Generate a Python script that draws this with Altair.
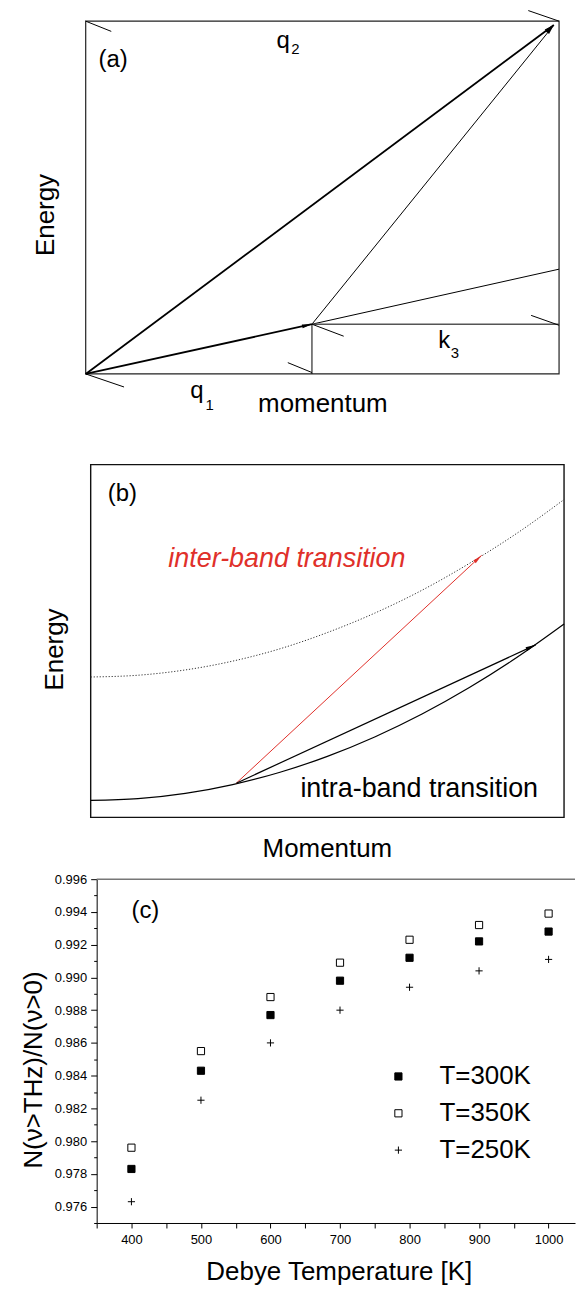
import math
import altair as alt
import pandas as pd

FONT = "Liberation Sans"
RED = "#e0302a"
ARROW = "M0,-1L0.38,1L-0.38,1Z"
PLUS = "M-1,0L1,0M0,-1L0,1"

# ---------------- Panel (a): schematic (box units 0..1) ----------------
a_main_x1 = [0.0, 0.0]
a_main_y1 = [0.0, 0.0]
a_main_x2 = [0.989, 0.478]
a_main_y2 = [0.989, 0.141]

a_thin_x1 = [0.478, 0.478, 0.478]
a_thin_y1 = [0.141, 0.141, 0.141]
a_thin_x2 = [0.989, 1.0, 0.478]
a_thin_y2 = [0.989, 0.297, 0.0]

a_k3_x1 = [0.478]
a_k3_y1 = [0.141]
a_k3_x2 = [1.0]
a_k3_y2 = [0.141]

a_stub_x1 = [0.0, 0.0, 0.935, 0.478, 0.427, 0.941]
a_stub_y1 = [1.0, 0.0, 1.030, 0.141, 0.032, 0.166]
a_stub_x2 = [0.054, 0.081, 1.0, 0.545, 0.478, 1.0]
a_stub_y2 = [0.971, -0.037, 1.0, 0.107, 0.004, 0.138]

a_head_x1 = [0.0, 0.478, 0.0]
a_head_y1 = [0.0, 0.141, 0.0]
a_head_x2 = [0.989, 0.989, 0.478]
a_head_y2 = [0.989, 0.989, 0.141]

a_big_text = ["(a)", "q", "q", "k"]
a_big_x = [0.027, 0.403, 0.221, 0.745]
a_big_y = [0.870, 0.924, -0.068, 0.073]
a_sub_text = ["2", "1", "3"]
a_sub_x = [0.434, 0.253, 0.771]
a_sub_y = [0.908, -0.102, 0.045]

# ---------------- Panel (b): bands (box units 0..1) ----------------
b_curve_x = [0.0, 0.1, 0.2, 0.3, 0.4, 0.5, 0.6, 0.7, 0.8, 0.9, 1.0]
b_lower_y = [0.048, 0.053, 0.068, 0.093, 0.128, 0.173, 0.228, 0.293, 0.368, 0.453, 0.548]
b_upper_y = [0.398, 0.403, 0.418, 0.443, 0.478, 0.524, 0.579, 0.644, 0.720, 0.805, 0.901]

b_red_x1 = [0.3076]
b_red_y1 = [0.097]
b_red_x2 = [0.826]
b_red_y2 = [0.743]
b_blk_x1 = [0.3076]
b_blk_y1 = [0.097]
b_blk_x2 = [0.940]
b_blk_y2 = [0.489]

b_text_black = ["(b)"]
b_text_black_x = [0.036]
b_text_black_y = [0.898]
b_intra_text = ["intra-band transition"]
b_intra_x = [0.443]
b_intra_y = [0.0565]
b_inter_text = ["inter-band transition"]
b_inter_x = [0.164]
b_inter_y = [0.709]

# ---------------- Panel (c): data ----------------
debye = [400, 500, 600, 700, 800, 900, 1000]
r300 = [0.9783, 0.9843, 0.9877, 0.9898, 0.9912, 0.9922, 0.9928]
r350 = [0.9796, 0.9855, 0.9888, 0.9909, 0.9923, 0.9932, 0.9939]
r250 = [0.9763, 0.9825, 0.9860, 0.9880, 0.9894, 0.9904, 0.9911]
series_names = ["T=300K", "T=350K", "T=250K"]
x_ticks = [350, 400, 450, 500, 550, 600, 650, 700, 750, 800, 850, 900, 950, 1000]
y_ticks = [round(0.975 + 0.001 * i, 3) for i in range(22)]
c_label = ["(c)"]
c_label_x = [400]
c_label_y = [0.9936]
legend_sym_x = [784, 784, 784]
legend_txt_x = [843, 843, 843]
legend_y = [0.98395, 0.98170, 0.97945]


def seg_df(x1, y1, x2, y2):
    return pd.DataFrame({"x": x1, "y": y1, "x2": x2, "y2": y2})


def head_df(x1, y1, x2, y2, W, H, L=5.0):
    rows = []
    for a, b, c, d in zip(x1, y1, x2, y2):
        dx = (c - a) * W
        dy = (d - b) * H
        n = math.hypot(dx, dy)
        rows.append({"x": c - dx / n * L / W, "y": d - dy / n * L / H,
                     "angle": math.degrees(math.atan2(dx, dy)) % 360})
    return pd.DataFrame(rows)


def txt_df(t, x, y):
    return pd.DataFrame({"t": t, "x": x, "y": y})


# ================= Panel (a) =================
AW, AH = 475, 354
xa = alt.Scale(domain=[0, 1], nice=False, zero=False)
ya = alt.Scale(domain=[0, 1], nice=False, zero=False)
axa_x = alt.Axis(title="momentum", labels=False, ticks=False, domain=False, grid=False,
                 titleFontSize=26, titleFontWeight="normal", titlePadding=17, titleColor="black")
axa_y = alt.Axis(title="Energy", labels=False, ticks=False, domain=False, grid=False,
                 titleFontSize=26, titleFontWeight="normal", titlePadding=27, titleY=194,
                 titleColor="black")


def XA():
    return alt.X("x:Q", scale=xa, axis=axa_x)


def YA():
    return alt.Y("y:Q", scale=ya, axis=axa_y)


frame_a = alt.Chart(seg_df([0.0], [0.0], [1.0], [1.0])).mark_rect(
    filled=False, stroke="#222", strokeWidth=1.2).encode(x=XA(), x2="x2:Q", y=YA(), y2="y2:Q")
main_a = alt.Chart(seg_df(a_main_x1, a_main_y1, a_main_x2, a_main_y2)).mark_rule(
    color="black", strokeWidth=1.8).encode(x=XA(), x2="x2:Q", y=YA(), y2="y2:Q")
thin_a = alt.Chart(seg_df(a_thin_x1, a_thin_y1, a_thin_x2, a_thin_y2)).mark_rule(
    color="black", strokeWidth=1.0).encode(x=XA(), x2="x2:Q", y=YA(), y2="y2:Q")
k3_a = alt.Chart(seg_df(a_k3_x1, a_k3_y1, a_k3_x2, a_k3_y2)).mark_rule(
    color="#555", strokeWidth=1.6).encode(x=XA(), x2="x2:Q", y=YA(), y2="y2:Q")
stub_a = alt.Chart(seg_df(a_stub_x1, a_stub_y1, a_stub_x2, a_stub_y2)).mark_rule(
    color="black", strokeWidth=1.0).encode(x=XA(), x2="x2:Q", y=YA(), y2="y2:Q")
heads_a = alt.Chart(head_df(a_head_x1, a_head_y1, a_head_x2, a_head_y2, AW, AH)).mark_point(
    shape=ARROW, size=100, filled=True, color="black", opacity=1).encode(
    x=XA(), y=YA(), angle=alt.Angle("angle:Q", scale=None))
big_a = alt.Chart(txt_df(a_big_text, a_big_x, a_big_y)).mark_text(
    fontSize=24, align="left", baseline="alphabetic", color="black").encode(x=XA(), y=YA(), text="t:N")
sub_a = alt.Chart(txt_df(a_sub_text, a_sub_x, a_sub_y)).mark_text(
    fontSize=15, align="left", baseline="alphabetic", color="black").encode(x=XA(), y=YA(), text="t:N")

panel_a = alt.layer(frame_a, main_a, thin_a, k3_a, stub_a, heads_a, big_a, sub_a).properties(
    width=AW, height=AH)

# ================= Panel (b) =================
BW, BH = 480, 383
xb = alt.Scale(domain=[0, 1], nice=False, zero=False, range=[5, 480])
yb = alt.Scale(domain=[0, 1], nice=False, zero=False, range=[383, 29])
axb_x = alt.Axis(title="Momentum", labels=False, ticks=False, domain=False, grid=False,
                 titleFontSize=26, titleFontWeight="normal", titlePadding=18, titleX=242,
                 titleColor="black")
axb_y = alt.Axis(title="Energy", labels=False, ticks=False, domain=False, grid=False,
                 titleFontSize=26, titleFontWeight="normal", titlePadding=18, titleY=214,
                 titleColor="black")


def XB():
    return alt.X("x:Q", scale=xb, axis=axb_x)


def YB():
    return alt.Y("y:Q", scale=yb, axis=axb_y)


frame_b = alt.Chart(seg_df([0.0], [0.0], [1.0], [1.0])).mark_rect(
    filled=False, stroke="#111", strokeWidth=1.4).encode(x=XB(), x2="x2:Q", y=YB(), y2="y2:Q")
lower_b = alt.Chart(pd.DataFrame({"x": b_curve_x, "y": b_lower_y})).mark_line(
    color="black", strokeWidth=1.2, interpolate="monotone").encode(x=XB(), y=YB())
upper_b = alt.Chart(pd.DataFrame({"x": b_curve_x, "y": b_upper_y})).mark_line(
    color="#333", strokeWidth=1.0, strokeDash=[1.2, 1.8], interpolate="monotone").encode(x=XB(), y=YB())
red_b = alt.Chart(seg_df(b_red_x1, b_red_y1, b_red_x2, b_red_y2)).mark_rule(
    color=RED, strokeWidth=1.0).encode(x=XB(), x2="x2:Q", y=YB(), y2="y2:Q")
blk_b = alt.Chart(seg_df(b_blk_x1, b_blk_y1, b_blk_x2, b_blk_y2)).mark_rule(
    color="black", strokeWidth=1.2).encode(x=XB(), x2="x2:Q", y=YB(), y2="y2:Q")
redhead_b = alt.Chart(head_df(b_red_x1, b_red_y1, b_red_x2, b_red_y2, 475, 354)).mark_point(
    shape=ARROW, size=90, filled=True, color=RED, opacity=1).encode(
    x=XB(), y=YB(), angle=alt.Angle("angle:Q", scale=None))
blkhead_b = alt.Chart(head_df(b_blk_x1, b_blk_y1, b_blk_x2, b_blk_y2, 475, 354)).mark_point(
    shape=ARROW, size=110, filled=True, color="black", opacity=1).encode(
    x=XB(), y=YB(), angle=alt.Angle("angle:Q", scale=None))
lab_b = alt.Chart(txt_df(b_text_black, b_text_black_x, b_text_black_y)).mark_text(
    fontSize=24, align="left", baseline="alphabetic", color="black").encode(x=XB(), y=YB(), text="t:N")
intra_b = alt.Chart(txt_df(b_intra_text, b_intra_x, b_intra_y)).mark_text(
    fontSize=27, align="left", baseline="alphabetic", color="black").encode(x=XB(), y=YB(), text="t:N")
inter_b = alt.Chart(txt_df(b_inter_text, b_inter_x, b_inter_y)).mark_text(
    fontSize=27, align="left", baseline="alphabetic", color=RED, fontStyle="italic").encode(
    x=XB(), y=YB(), text="t:N")

panel_b = alt.layer(frame_b, upper_b, lower_b, red_b, blk_b, redhead_b, blkhead_b,
                    lab_b, intra_b, inter_b).properties(width=BW, height=BH)

# ================= Panel (c) =================
CW, CH = 491, 345
c_df = pd.DataFrame({
    "debye": debye * 3,
    "ratio": r300 + r350 + r250,
    "series": [series_names[0]] * 7 + [series_names[1]] * 7 + [series_names[2]] * 7,
})
leg_df = pd.DataFrame({"debye": legend_sym_x, "tx": legend_txt_x, "ratio": legend_y,
                       "series": series_names})
xc = alt.Scale(domain=[350, 1038], nice=False, zero=False, range=[11, 491])
yc = alt.Scale(domain=[0.975, 0.996], nice=False, zero=False)
axc_x = alt.Axis(title="Debye Temperature [K]", values=x_ticks, grid=False,
                 labelExpr="datum.value % 100 == 0 ? format(datum.value, 'd') : ''",
                 labelFontSize=13, labelColor="black", labelPadding=6, labelOverlap=False,
                 labelFlush=False, tickSize=5, tickColor="black", domainColor="black",
                 titleFontSize=26, titleFontWeight="normal", titlePadding=12, titleX=254,
                 titleColor="black")
axc_y = alt.Axis(title="N(ν>THz)/N(ν>0)", values=y_ticks, grid=False, offset=-11,
                 labelExpr="round(datum.value*1000) % 2 == 0 ? format(datum.value, '.3f') : ''",
                 labelFontSize=13, labelColor="black", labelPadding=4, labelOverlap=False,
                 labelFlush=False,
                 tickSize={"condition": {"test": "round(datum.value*1000) % 2 == 0", "value": 6},
                           "value": 3},
                 tickColor="black", domainColor="black",
                 titleFontSize=26, titleFontWeight="normal", titlePadding=8, titleY=191,
                 titleColor="black")

shape_enc = alt.Shape("series:N", scale=alt.Scale(domain=series_names,
                                                  range=["square", "square", PLUS]), legend=None)
fill_enc = alt.Fill("series:N", scale=alt.Scale(domain=series_names,
                                                range=["black", "white", "transparent"]), legend=None)

pts_c = alt.Chart(c_df).mark_point(filled=True, stroke="black", strokeWidth=1, size=52,
                                   opacity=1).encode(
    x=alt.X("debye:Q", scale=xc, axis=axc_x),
    y=alt.Y("ratio:Q", scale=yc, axis=axc_y),
    shape=shape_enc, fill=fill_enc,
)
leg_pts = alt.Chart(leg_df).mark_point(filled=True, stroke="black", strokeWidth=1, size=52,
                                       opacity=1).encode(
    x=alt.X("debye:Q", scale=xc, axis=axc_x),
    y=alt.Y("ratio:Q", scale=yc, axis=axc_y),
    shape=shape_enc, fill=fill_enc,
)
leg_txt = alt.Chart(leg_df).mark_text(fontSize=26, align="left", baseline="middle",
                                      color="black").encode(
    x=alt.X("tx:Q", scale=xc, axis=axc_x),
    y=alt.Y("ratio:Q", scale=yc, axis=axc_y),
    text="series:N",
)
lab_c = alt.Chart(txt_df(c_label, c_label_x, c_label_y)).mark_text(
    fontSize=24, align="left", baseline="alphabetic", color="black").encode(
    x=alt.X("x:Q", scale=xc, axis=axc_x), y=alt.Y("y:Q", scale=yc, axis=axc_y), text="t:N")
top_c = alt.Chart(pd.DataFrame({"k": [0]})).mark_rule(color="#777", strokeWidth=1.5).encode(
    x=alt.value(11), x2=alt.value(491), y=alt.value(0))

panel_c = alt.layer(top_c, pts_c, leg_pts, leg_txt, lab_c).properties(width=CW, height=CH)

chart = alt.vconcat(panel_a, panel_b, panel_c, spacing=62, bounds="flush",
                    padding={"left": 19, "top": 7, "right": 0, "bottom": 0}).configure(
    font=FONT).configure_view(stroke="transparent")

chart.save("out.html", embed_options={"renderer": "svg", "actions": False})
